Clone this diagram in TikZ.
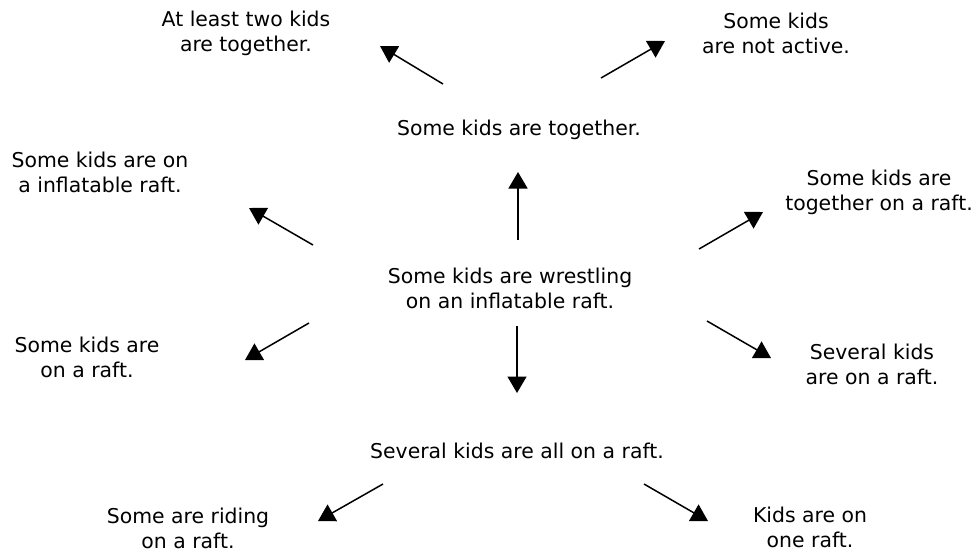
\documentclass[tikz,border=0pt]{standalone}
\usepackage{fontspec}
\setmainfont{DejaVu Sans}
\usetikzlibrary{arrows.meta}
\begin{document}
\begin{tikzpicture}[x=1pt,y=-1pt,
  lbl/.style={inner sep=0pt,align=center,font=\fontsize{20.4}{25.2}\selectfont,text=black},
  arr/.style={line width=1.5pt,-{Triangle[length=16.5pt,width=19pt]}}]
\useasboundingbox (0,0) rectangle (976,550);
\node[lbl] (at2) at (246,33) {At least two kids\\are together.};
\node[lbl] (na) at (776,33) {Some kids\\are not active.};
\node[lbl] (tog) at (519,130) {Some kids are together.};
\node[lbl] (inf) at (100,172) {Some kids are on\\a inflatable raft.};
\node[lbl] (togr) at (879,192) {Some kids are\\together on a raft.};
\node[lbl] (c) at (510,288) {Some kids are wrestling\\on an inflatable raft.};
\node[lbl] (ra) at (87,357) {Some kids are\\on a raft.};
\node[lbl] (sev) at (872,364) {Several kids\\are on a raft.};
\node[lbl] (all) at (517,451) {Several kids are all on a raft.};
\node[lbl] (rid) at (188,528) {Some are riding\\on a raft.};
\node[lbl] (one) at (810,527) {Kids are on\\one raft.};
\draw[arr] ([shift={(-76,-46)}]tog.center) -- ([shift={(134,13)}]at2.center);
\draw[arr] ([shift={(82,-52)}]tog.center) -- ([shift={(-111,8)}]na.center);
\draw[arr] ([shift={(8,-48)}]c.center) -- ([shift={(-1,42)}]tog.center);
\draw[arr] ([shift={(-197,-43)}]c.center) -- ([shift={(149,36)}]inf.center);
\draw[arr] ([shift={(189,-39)}]c.center) -- ([shift={(-116,20)}]togr.center);
\draw[arr] ([shift={(-201,35)}]c.center) -- ([shift={(158,3)}]ra.center);
\draw[arr] ([shift={(197,33)}]c.center) -- ([shift={(-101,-6)}]sev.center);
\draw[arr] ([shift={(7,38)}]c.center) -- ([shift={(0,-58)}]all.center);
\draw[arr] ([shift={(-134,33)}]all.center) -- ([shift={(130,-7)}]rid.center);
\draw[arr] ([shift={(127,33)}]all.center) -- ([shift={(-102,-6)}]one.center);
\end{tikzpicture}
\end{document}
